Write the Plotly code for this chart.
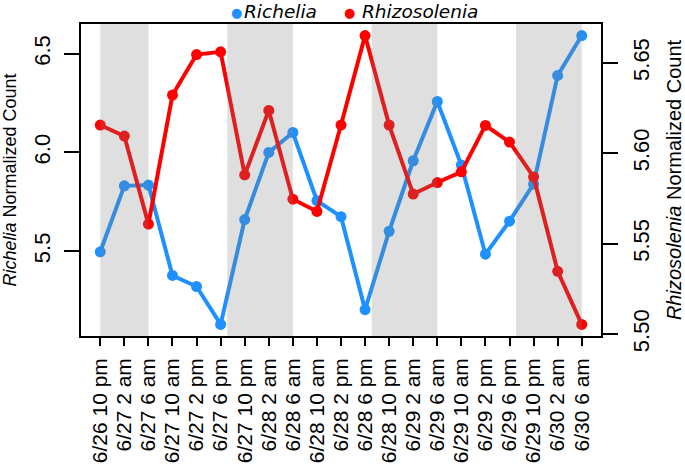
import plotly.graph_objects as go

# ---- data ----
time_labels = [
    "6/26 10 pm", "6/27 2 am", "6/27 6 am", "6/27 10 am", "6/27 2 pm", "6/27 6 pm",
    "6/27 10 pm", "6/28 2 am", "6/28 6 am", "6/28 10 am", "6/28 2 pm", "6/28 6 pm",
    "6/28 10 pm", "6/29 2 am", "6/29 6 am", "6/29 10 am", "6/29 2 pm", "6/29 6 pm",
    "6/29 10 pm", "6/30 2 am", "6/30 6 am",
]
richelia = [5.497, 5.831, 5.835, 5.377, 5.321, 5.129, 5.660, 6.000, 6.101, 5.756, 5.675,
            5.204, 5.601, 5.958, 6.258, 5.936, 5.485, 5.652, 5.840, 6.390, 6.592]
rhizosolenia = [5.6156, 5.6095, 5.5608, 5.6322, 5.6546, 5.6561, 5.5880, 5.6237, 5.5746,
                5.5678, 5.6156, 5.6651, 5.6156, 5.5774, 5.5838, 5.5897, 5.6154, 5.6062,
                5.5869, 5.5347, 5.5053]
richelia_ticks = [5.5, 6.0, 6.5]
rhizo_ticks = [5.50, 5.55, 5.60, 5.65]
# night periods, hours since first sample (6/26 10 pm); samples every 4 h
night_start_h = [0.0, 21.1, 45.1, 69.1]
night_end_h = [8.0, 32.0, 56.0, 80.0]
sample_interval_h = 4.0

BLUE = "#1E90FF"
RED = "#FF0000"
TICK_FONT = dict(family="Liberation Sans, Arial, sans-serif", size=21, color="black")
YTICK_FONT = dict(family="Liberation Sans, Arial, sans-serif", size=22, color="black")
TITLE_FONT = dict(family="Liberation Sans, Arial, sans-serif", size=18, color="black")
TITLE2_FONT = dict(family="Liberation Sans, Arial, sans-serif", size=20, color="black")
LEG_FONT = dict(family="DejaVu Sans, sans-serif", size=18.5, color="black")

x = list(range(len(time_labels)))

fig = go.Figure()
fig.add_trace(go.Scatter(
    x=x, y=richelia, mode="lines+markers", name="Richelia", yaxis="y",
    line=dict(color=BLUE, width=4), marker=dict(size=11, color=BLUE), showlegend=False,
))
fig.add_trace(go.Scatter(
    x=x, y=rhizosolenia, mode="lines+markers", name="Rhizosolenia", yaxis="y2",
    line=dict(color=RED, width=4), marker=dict(size=11, color=RED), showlegend=False,
))

for s, e in zip(night_start_h, night_end_h):
    fig.add_shape(type="rect", xref="x", yref="paper",
                  x0=s / sample_interval_h, x1=e / sample_interval_h, y0=0, y1=1,
                  fillcolor="rgba(128,128,128,0.25)", line_width=0, layer="above")


def rng(vals):
    lo, hi = min(vals), max(vals)
    pad = (hi - lo) * 0.04
    return [lo - pad, hi + pad]


fig.update_layout(
    width=685, height=475,
    margin=dict(l=81, r=84, t=24, b=139),
    paper_bgcolor="white", plot_bgcolor="white",
    showlegend=False,
    xaxis=dict(
        range=rng(x), tickvals=x, ticktext=time_labels, tickangle=-90,
        ticks="outside", ticklen=8, tickwidth=1.5, tickcolor="black",
        showline=True, mirror=True, linecolor="black", linewidth=1.5,
        showgrid=False, zeroline=False, tickfont=TICK_FONT, ticklabelstandoff=4,
        automargin=False,
    ),
    yaxis=dict(
        range=rng(richelia), tickvals=richelia_ticks,
        ticktext=[f"{v:.1f}" for v in richelia_ticks], tickangle=-90,
        ticks="outside", ticklen=15, tickwidth=1.5, tickcolor="black",
        showline=True, mirror=False, linecolor="black", linewidth=1.5,
        showgrid=False, zeroline=False, tickfont=YTICK_FONT, ticklabelstandoff=5,
        automargin=False,
        title=dict(text="<i>Richelia</i> Normalized Count", font=TITLE_FONT, standoff=18),
    ),
    yaxis2=dict(
        range=rng(rhizosolenia), overlaying="y", side="right", tickvals=rhizo_ticks,
        ticktext=[f"{v:.2f}" for v in rhizo_ticks], tickangle=-90,
        ticks="outside", ticklen=15, tickwidth=1.5, tickcolor="black",
        showline=True, linecolor="black", linewidth=1.5,
        showgrid=False, zeroline=False, tickfont=YTICK_FONT, ticklabelstandoff=5,
        automargin=False,
        title=dict(text="<i>Rhizosolenia</i> Normalized Count", font=TITLE2_FONT, standoff=18),
    ),
)

# legend drawn as text entries above the plot
leg_items = [("Richelia", BLUE, 0.2994, 0.3135), ("Rhizosolenia", RED, 0.5173, 0.5398)]
for name, col, xd, xt in leg_items:
    fig.add_annotation(xref="paper", yref="paper", x=xd, y=1.037, text="●",
                       showarrow=False, xanchor="center", yanchor="middle",
                       font=dict(family="DejaVu Sans", size=13, color=col))
    fig.add_annotation(xref="paper", yref="paper", x=xt, y=1.04, text=f"<i>{name}</i>",
                       showarrow=False, xanchor="left", yanchor="middle", xshift=-2,
                       font=LEG_FONT)

# remove the browser's default 8 px page margin so the figure fills the window
fig.write_html("out.html", config={"displayModeBar": False},
               post_script="document.body.style.margin='0px';")
